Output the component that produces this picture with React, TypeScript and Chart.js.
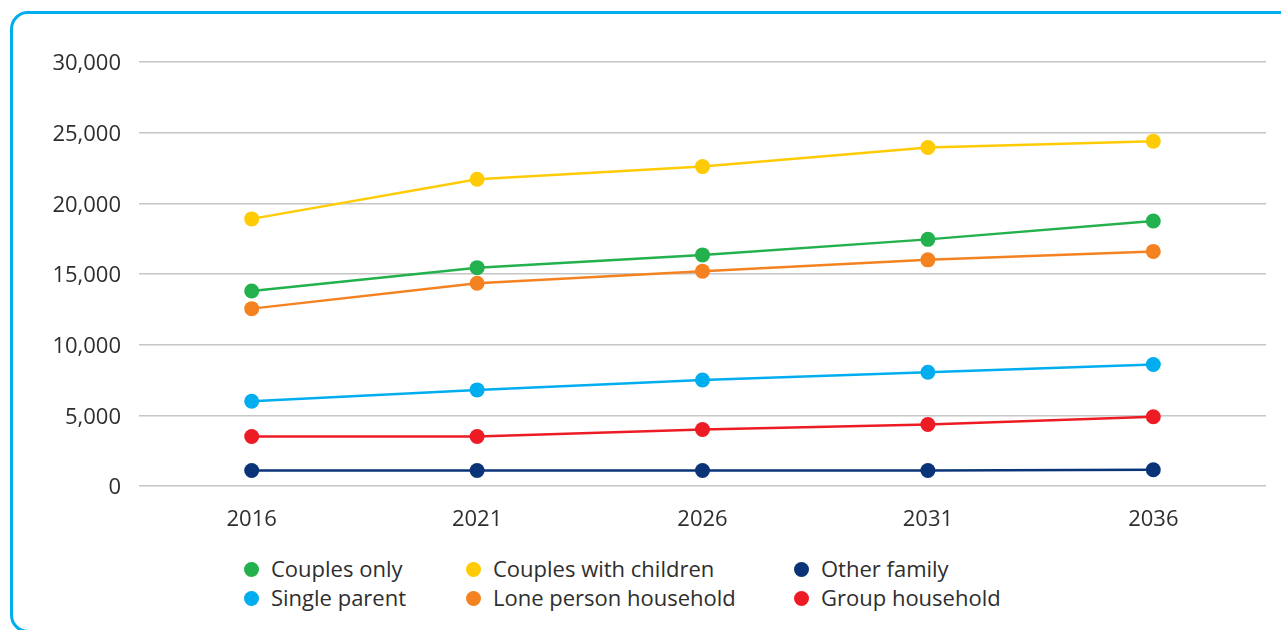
import React, { useEffect, useRef } from "react";
import { Chart, registerables } from "chart.js";

Chart.register(...registerables);

const years = ["2016", "2021", "2026", "2031", "2036"];
const couplesOnly = [13800, 15450, 16350, 17450, 18750];
const couplesWithChildren = [18900, 21700, 22600, 23950, 24400];
const otherFamily = [1100, 1100, 1100, 1100, 1150];
const singleParent = [6000, 6800, 7500, 8050, 8600];
const lonePerson = [12550, 14350, 15200, 16000, 16600];
const groupHousehold = [3500, 3500, 4000, 4350, 4900];

const seriesNames = [
  "Couples only",
  "Couples with children",
  "Other family",
  "Single parent",
  "Lone person household",
  "Group household",
];
const seriesColors = ["#22B14C", "#FFCB05", "#0B3478", "#00AEEF", "#F58220", "#ED1C24"];
const seriesData = [couplesOnly, couplesWithChildren, otherFamily, singleParent, lonePerson, groupHousehold];

const FONT = "'Open Sans', 'Noto Sans', sans-serif";
const TEXT = "#2e2e2e";

const legendCols = [251, 473, 801];
const legendRows = [569, 598];

export default function App() {
  const canvasRef = useRef<HTMLCanvasElement | null>(null);

  useEffect(() => {
    if (!canvasRef.current) return;
    const chart = new Chart(canvasRef.current, {
      type: "line",
      data: {
        labels: years,
        datasets: seriesNames.map((name, i) => ({
          label: name,
          data: seriesData[i],
          borderColor: seriesColors[i],
          backgroundColor: seriesColors[i],
          pointBackgroundColor: seriesColors[i],
          pointBorderWidth: 0,
          pointRadius: 7.5,
          borderWidth: 2.5,
          tension: 0,
          fill: false,
        })),
      },
      options: {
        responsive: false,
        animation: false,
        devicePixelRatio: 1,
        layout: { padding: { top: 62, right: 15, left: 0, bottom: 0 } },
        plugins: { legend: { display: false }, tooltip: { enabled: false } },
        scales: {
          x: {
            offset: true,
            grid: { display: false, drawTicks: false },
            border: { display: false },
            ticks: { color: TEXT, font: { family: FONT, size: 22 }, padding: 21 },
            afterFit: (s: any) => {
              s.height = 59;
            },
          },
          y: {
            min: 0,
            max: 30000,
            grid: { color: "#c6c6c6", lineWidth: 1.5, drawTicks: false },
            border: { display: false },
            ticks: {
              stepSize: 5000,
              color: TEXT,
              font: { family: FONT, size: 22 },
              padding: 18,
              labelOffset: 2,
              callback: (v: any) => Number(v).toLocaleString("en-US"),
            },
            afterFit: (s: any) => {
              s.width = 139;
            },
          },
        },
      },
    });
    return () => chart.destroy();
  }, []);

  return (
    <div style={{ position: "absolute", left: 0, top: 0, width: 1281, height: 630, overflow: "hidden", background: "#fff" }}>
      <div
        style={{
          position: "absolute",
          left: 10,
          top: 11,
          width: 1320,
          height: 622,
          border: "3px solid #00AEEF",
          borderRadius: 18,
          boxSizing: "border-box",
        }}
      />
      <canvas ref={canvasRef} width={1281} height={545} style={{ position: "absolute", left: 0, top: 0 }} />
      {seriesNames.map((name, i) => {
        const cx = legendCols[i % 3];
        const cy = legendRows[Math.floor(i / 3)];
        return (
          <div key={name}>
            <div
              style={{
                position: "absolute",
                left: cx - 7.5,
                top: cy - 7.5,
                width: 15,
                height: 15,
                borderRadius: "50%",
                background: seriesColors[i],
              }}
            />
            <div
              style={{
                position: "absolute",
                left: cx + 20,
                top: cy - 16,
                height: 30,
                lineHeight: "30px",
                fontFamily: FONT,
                fontSize: 22,
                color: TEXT,
                whiteSpace: "nowrap",
              }}
            >
              {name}
            </div>
          </div>
        );
      })}
    </div>
  );
}
